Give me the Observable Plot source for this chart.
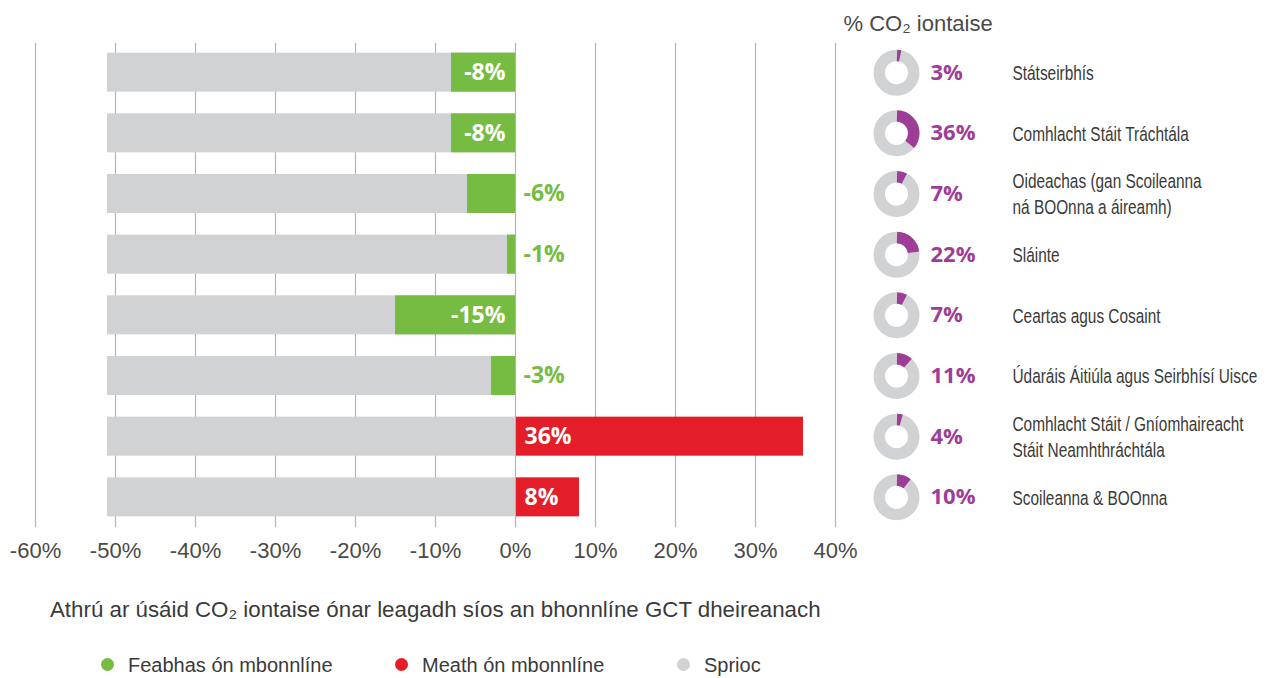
<!DOCTYPE html>
<html><head><meta charset="utf-8">
<script src="https://cdn.jsdelivr.net/npm/d3@7"></script>
<script src="https://cdn.jsdelivr.net/npm/@observablehq/plot@0.6"></script>
<style>
body{margin:0;background:#fff;font-family:"Liberation Sans",sans-serif;}
#wrap{position:relative;width:1268px;height:678px;overflow:hidden;}
#chart{position:absolute;left:0;top:0;}
.sub{position:absolute;left:50px;top:597px;font-size:22.3px;line-height:26px;color:#3a3a3a;white-space:nowrap;}
.leg{position:absolute;top:652px;font-size:20px;line-height:26px;color:#3a3a3a;white-space:nowrap;}
.dot{position:absolute;top:658px;width:13px;height:13px;border-radius:50%;}
</style></head><body>
<div id="wrap">
<div id="chart"></div>
<div class="sub" id="sub"></div>
<div id="legend"></div>
</div>
<script>
// ---- data ----
const sectors = [
  "Státseirbhís",
  "Comhlacht Stáit Tráchtála",
  "Oideachas (gan Scoileanna\nná BOOnna a áireamh)",
  "Sláinte",
  "Ceartas agus Cosaint",
  "Údaráis Áitiúla agus Seirbhísí Uisce",
  "Comhlacht Stáit / Gníomhaireacht\nStáit Neamhthráchtála",
  "Scoileanna & BOOnna"
];
const changes = [-8, -8, -6, -1, -15, -3, 36, 8];
const targets = [-51, -51, -51, -51, -51, -51, -51, -51];
const shares = [3, 36, 7, 22, 7, 11, 4, 10];
const xTicks = [-60, -50, -40, -30, -20, -10, 0, 10, 20, 30, 40];
const donutTitle = "% CO₂ iontaise";
const subtitle = "Athrú ar úsáid CO₂ iontaise ónar leagadh síos an bhonnlíne GCT dheireanach";
const legendItems = [
  {label: "Feabhas ón mbonnlíne", color: "#76bc43"},
  {label: "Meath ón mbonnlíne", color: "#e31e28"},
  {label: "Sprioc", color: "#d1d2d4"}
];

// ---- styles ----
const GREEN = "#76bc43", RED = "#e31e28", GREY = "#d1d2d4", PURPLE = "#9e3d97";
const BOLD = "'Open Sans', 'Liberation Sans', sans-serif";
const SANS = "'Liberation Sans', sans-serif";
const R = 17.25, RW = 11.5, CIRC = 2 * Math.PI * R;

const rows = sectors.map((s, i) => ({sector: s, change: changes[i], target: targets[i], share: shares[i]}));
const pct = v => `${v}%`;

const donutArcs = rows.map(d => Plot.dot([d], {
  y: "sector", frameAnchor: "right", dx: 61, r: R,
  fill: "none", stroke: PURPLE, strokeWidth: RW,
  strokeDasharray: `${d.share / 100 * CIRC} ${CIRC - d.share / 100 * CIRC}`,
  strokeDashoffset: CIRC / 4
}));

const chart = Plot.plot({
  width: 1268, height: 572,
  marginLeft: 35, marginRight: 433, marginTop: 31, marginBottom: 34,
  style: {fontFamily: SANS, background: "white"},
  x: {domain: [-60, 40], axis: null},
  y: {domain: sectors, padding: 0.357, round: false, axis: null},
  marks: [
    Plot.ruleX(xTicks, {x: d => d, stroke: "#b4b4b4", strokeWidth: 1.2, insetTop: 12, insetBottom: 11}),
    Plot.barX(rows, {y: "sector", x1: 0, x2: "target", fill: GREY}),
    Plot.barX(rows.filter(d => d.change < 0), {y: "sector", x1: 0, x2: "change", fill: GREEN}),
    Plot.barX(rows.filter(d => d.change > 0), {y: "sector", x1: 0, x2: "change", fill: RED}),
    Plot.ruleX([0], {stroke: "#b4b4b4", strokeWidth: 1, insetTop: 12, insetBottom: 11}),
    Plot.text(rows.filter(d => d.change <= -8), {y: "sector", x: 0, text: d => pct(d.change), textAnchor: "end", dx: -10, fill: "white", fontFamily: BOLD, fontWeight: "bold", fontSize: 23}),
    Plot.text(rows.filter(d => d.change >= 8), {y: "sector", x: 0, text: d => pct(d.change), textAnchor: "start", dx: 9, fill: "white", fontFamily: BOLD, fontWeight: "bold", fontSize: 23}),
    Plot.text(rows.filter(d => d.change > -8 && d.change < 0), {y: "sector", x: 0, text: d => pct(d.change), textAnchor: "start", dx: 8, fill: GREEN, fontFamily: BOLD, fontWeight: "bold", fontSize: 23}),
    Plot.axisX(xTicks, {tickFormat: pct, tickSize: 0, tickPadding: 4, fontSize: 22, fill: "#4a4a4a", fontFamily: SANS}),
    // donuts
    Plot.dot(rows, {y: "sector", frameAnchor: "right", dx: 61, r: R, fill: "none", stroke: GREY, strokeWidth: RW}),
    ...donutArcs,
    Plot.text(rows, {y: "sector", frameAnchor: "right", dx: 95, text: d => pct(d.share), textAnchor: "start", fill: PURPLE, fontFamily: BOLD, fontWeight: "bold", fontSize: 22}),
    Plot.text(rows, {y: "sector", frameAnchor: "right", dx: 177, dy: -1, text: "sector", textAnchor: "start", fill: "#3a3a3a", fontSize: 19.5, lineHeight: 1.33}),
    Plot.text([donutTitle], {frameAnchor: "top-right", dx: 8, dy: -16, text: d => d, textAnchor: "start", fill: "#4a4a4a", fontSize: 22})
  ]
});
document.getElementById("chart").appendChild(chart);

// condense the sector labels horizontally (the original uses a condensed face)
const flat = new Set(sectors.map(s => s.replace("\n", "")));
d3.select(chart).selectAll("text").each(function() {
  if (flat.has(this.textContent)) {
    const t = this.getAttribute("transform") || "";
    this.setAttribute("transform", t + " scale(0.79,1)");
  }
});

document.getElementById("sub").textContent = subtitle;
const dotX = [107, 401, 683];
const leg = document.getElementById("legend");
legendItems.forEach((it, i) => {
  const dot = document.createElement("div");
  dot.className = "dot";
  dot.style.left = (dotX[i] - 6.5) + "px";
  dot.style.background = it.color;
  leg.appendChild(dot);
  const t = document.createElement("div");
  t.className = "leg";
  t.style.left = (dotX[i] + 21) + "px";
  t.textContent = it.label;
  leg.appendChild(t);
});
</script>
</body></html>
